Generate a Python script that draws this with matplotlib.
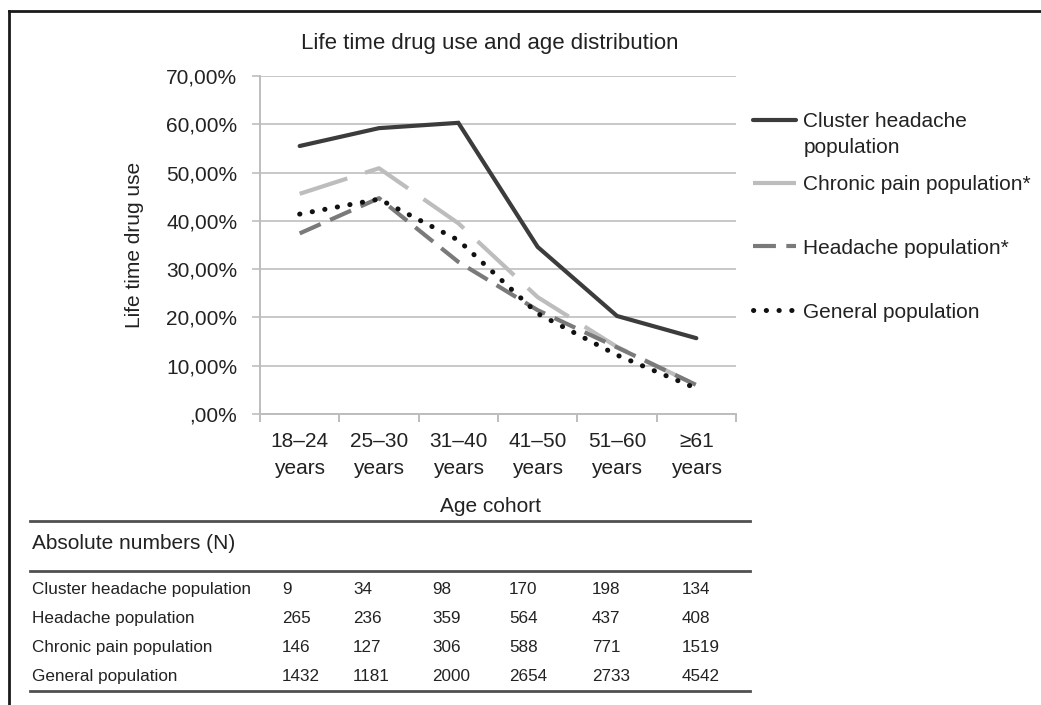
import matplotlib
matplotlib.use("Agg")
import matplotlib.pyplot as plt
from matplotlib.lines import Line2D
from matplotlib.legend_handler import HandlerLine2D
from matplotlib.ticker import FuncFormatter, FixedLocator
import numpy as np

plt.rcParams['font.family'] = ['Liberation Sans', 'DejaVu Sans']

# data (life time drug use, %)
age_groups = ['18–24\nyears', '25–30\nyears', '31–40\nyears', '41–50\nyears', '51–60\nyears', '≥61\nyears']
cluster = [55.5, 59.2, 60.3, 34.6, 20.3, 15.7]
chronic = [45.6, 50.9, 39.5, 24.2, 13.9, 6.0]
headache = [37.4, 44.7, 31.5, 21.5, 13.8, 6.0]
general = [41.4, 44.5, 36.0, 20.8, 12.2, 5.3]

# absolute numbers table
table_rows = ['Cluster headache population', 'Headache population',
              'Chronic pain population', 'General population']
table_vals = [[9, 34, 98, 170, 198, 134],
              [265, 236, 359, 564, 437, 408],
              [146, 127, 306, 588, 771, 1519],
              [1432, 1181, 2000, 2654, 2733, 4542]]

W, H = 1041, 705
fig = plt.figure(figsize=(W / 100, H / 100), dpi=100)

def fx(px):
    return px / W

def fy(py):
    return 1 - py / H

ax = fig.add_axes([fx(260), fy(414), fx(736) - fx(260), fy(76) - fy(414)])

x = np.arange(len(age_groups))
grid_c = '#c8c8c8'
txt_c = '#222222'

l_cluster, = ax.plot(x, cluster, color='#3c3c3c', lw=3.0, solid_capstyle='round',
                     solid_joinstyle='miter', label='Cluster headache\npopulation')
l_chronic, = ax.plot(x, chronic, color='#bdbdbd', lw=3.0, dashes=(12, 4.5),
                     dash_capstyle='butt', label='Chronic pain population*')
l_head, = ax.plot(x, headache, color='#7a7a7a', lw=3.0, dashes=(5.5, 2.5),
                  dash_capstyle='butt', label='Headache population*')
l_gen, = ax.plot(x, general, color='#111111', lw=3.6, dashes=(0.05, 2.5),
                 dash_capstyle='round', label='General population')

ax.set_xlim(-0.5, len(age_groups) - 0.5)
ax.set_ylim(0, 70)
ax.set_yticks(np.arange(0, 71, 10))

def pct(v, pos):
    s = f'{v:.2f}%'.replace('.', ',')
    if abs(v) < 1e-9:
        s = s[1:]
    return s

ax.yaxis.set_major_formatter(FuncFormatter(pct))
ax.set_xticks(x)
ax.set_xticklabels(age_groups, linespacing=1.5)
ax.xaxis.set_minor_locator(FixedLocator(np.arange(-0.5, len(age_groups), 1.0)))

ax.grid(axis='y', color=grid_c, lw=1.4)
ax.set_axisbelow(True)
for side in ['top', 'right']:
    ax.spines[side].set_visible(False)
for side in ['left', 'bottom']:
    ax.spines[side].set_color('#bdbdbd')
    ax.spines[side].set_linewidth(1.4)

ax.tick_params(axis='y', length=5.8, width=1.4, color=grid_c, pad=10.5,
               labelsize=15, labelcolor=txt_c)
ax.tick_params(axis='x', which='major', length=0, pad=13, labelsize=15, labelcolor=txt_c)
ax.tick_params(axis='x', which='minor', length=5.8, width=1.4, color='#bdbdbd')

fig.text(fx(490), fy(44), 'Life time drug use and age distribution', ha='center',
         va='center', fontsize=16, color=txt_c)
fig.text(fx(135), fy(245), 'Life time drug use', rotation=90, ha='center',
         va='center', fontsize=15, color=txt_c)
fig.text(fx(490), fy(507), 'Age cohort', ha='center', va='center', fontsize=15, color=txt_c)

# legends: the two-line entry keeps its line next to the first text line
class FirstLine(HandlerLine2D):
    def create_artists(self, legend, orig_handle, xdescent, ydescent, width,
                       height, fontsize, trans):
        arts = super().create_artists(legend, orig_handle, xdescent, ydescent,
                                      width, height, fontsize, trans)
        for a in arts:
            a.set_ydata(np.asarray(a.get_ydata()) + fontsize * 0.68)
        return arts

leg1 = fig.legend(handles=[l_cluster], loc='upper left',
                  bbox_to_anchor=(fx(753), fy(112)), frameon=False, fontsize=15,
                  handlelength=2.07, handletextpad=0.34, borderpad=0, borderaxespad=0,
                  handler_map={l_cluster: FirstLine()})
leg1.get_texts()[0].set_linespacing(1.45)
leg2 = fig.legend(handles=[l_chronic, l_head, l_gen], loc='upper left',
                  bbox_to_anchor=(fx(753), fy(175)), frameon=False, fontsize=15,
                  handlelength=2.07, handletextpad=0.34, borderpad=0, borderaxespad=0,
                  labelspacing=2.15)
for leg in (leg1, leg2):
    for t in leg.get_texts():
        t.set_color(txt_c)

# table of absolute numbers
line_c = '#505050'
for yy in (521, 571, 691):
    fig.add_artist(Line2D([fx(30), fx(750)], [fy(yy), fy(yy)], color=line_c, lw=2.0))
fig.text(fx(32), fy(549), 'Absolute numbers (N)', fontsize=15, color=txt_c, va='baseline')
col_x = [282, 353, 432, 509, 592, 682]
row_y = [594, 623, 652, 681]
for name, vals, ry in zip(table_rows, table_vals, row_y):
    fig.text(fx(32), fy(ry), name, fontsize=12.3, color=txt_c, va='baseline')
    for cx, v in zip(col_x, vals):
        fig.text(fx(cx), fy(ry), str(v), fontsize=12.3, color=txt_c, va='baseline')

# outer frame (left and top edges)
fig.add_artist(Line2D([fx(9), fx(9)], [fy(11), 0], color='#1a1a1a', lw=2.0))
fig.add_artist(Line2D([fx(9), 1], [fy(11), fy(11)], color='#1a1a1a', lw=2.0))

fig.savefig('out.png', dpi=100)
